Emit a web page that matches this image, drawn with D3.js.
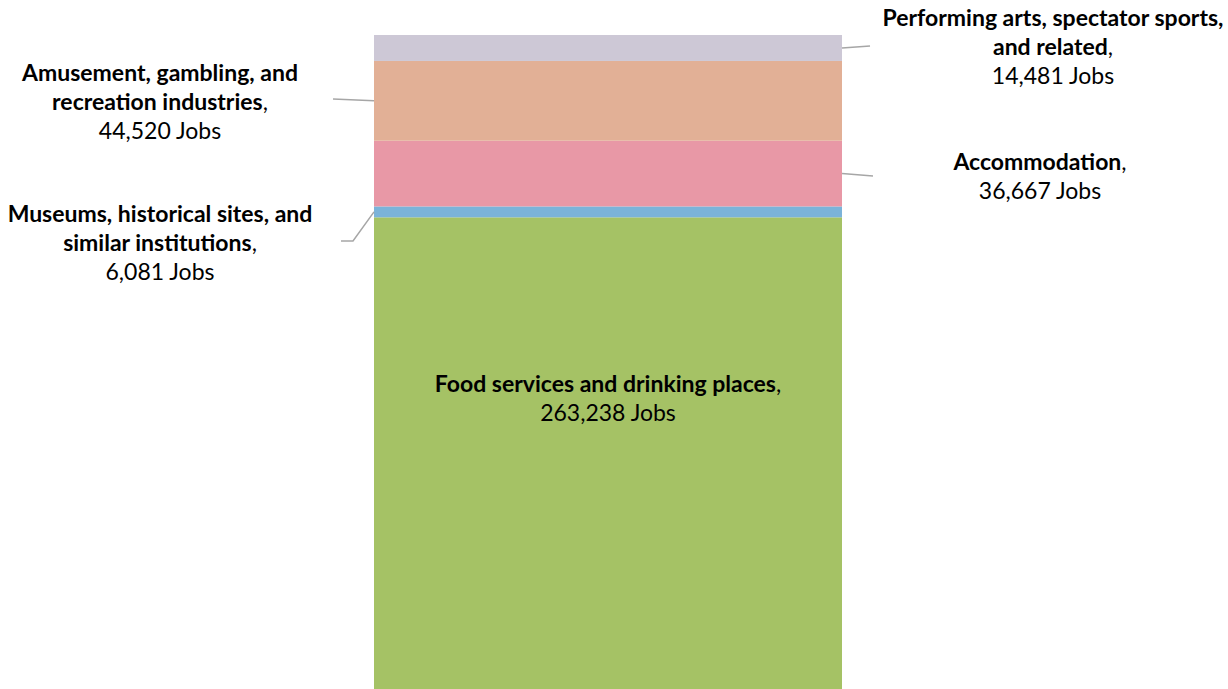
<!DOCTYPE html>
<html>
<head>
<meta charset="utf-8">
<script src="https://cdn.jsdelivr.net/npm/d3@7"></script>
<style>
  html, body { margin: 0; padding: 0; background: #fff; }
  svg { display: block; }
  text { font-family: Lato, "Open Sans", sans-serif; fill: #000; }
</style>
</head>
<body>
<div class="container"></div>
<script>
// stacked from the bottom up
const categories = [
    'Food services and drinking places',
    'Museums, historical sites, and similar institutions',
    'Accommodation',
    'Amusement, gambling, and recreation industries',
    'Performing arts, spectator sports, and related'
];
const jobs = [263238, 6081, 36667, 44520, 14481];
const labelLines = [
    ['Food services and drinking places'],
    ['Museums, historical sites, and', 'similar institutions'],
    ['Accommodation'],
    ['Amusement, gambling, and', 'recreation industries'],
    ['Performing arts, spectator sports,', 'and related']
];

const colors = ['#a5c265', '#7bb3d9', '#e898a6', '#e2b096', '#cdc8d6'];

const width = 1228;
const height = 689;

// label placement: centre x, first baseline, and leader line end points
const labelLayout = [
    { x: 608, y: 392, leader: null },
    { x: 160, y: 222, side: 'left', leader: [[353, 241], [341, 241]] },
    { x: 1040, y: 170, side: 'right', leader: [[873, 176]] },
    { x: 160, y: 81, side: 'left', leader: [[333, 99]] },
    { x: 1053, y: 26, side: 'right', leader: [[870, 46]] }
];

const svg = d3.select('.container')
    .append('svg')
    .attr('width', width)
    .attr('height', height);

const total = d3.sum(jobs);
const tops = Array.from(d3.cumsum(jobs));

const xScale = d3.scaleBand()
    .domain(['Jobs'])
    .range([374, 842]);

const yScale = d3.scaleLinear()
    .domain([0, total])
    .range([689, 35]);

const segments = jobs.map((v, i) => ({
    name: categories[i],
    value: v,
    y0: tops[i] - v,
    y1: tops[i],
    color: colors[i],
    lines: labelLines[i],
    layout: labelLayout[i]
}));

svg.append('g')
    .selectAll('rect')
    .data(segments)
    .join('rect')
    .attr('x', xScale('Jobs'))
    .attr('width', xScale.bandwidth())
    .attr('y', d => yScale(d.y1))
    .attr('height', d => yScale(d.y0) - yScale(d.y1))
    .attr('fill', d => d.color);

// leader lines
const line = d3.line().curve(d3.curveLinear);
svg.append('g')
    .selectAll('path')
    .data(segments.filter(d => d.layout.leader))
    .join('path')
    .attr('d', d => {
        const xEdge = d.layout.side === 'left' ? xScale('Jobs') : xScale('Jobs') + xScale.bandwidth();
        const yMid = yScale((d.y0 + d.y1) / 2);
        return line([[xEdge, yMid], ...d.layout.leader]);
    })
    .attr('fill', 'none')
    .attr('stroke', '#a6a6a6')
    .attr('stroke-width', 1.5);

// labels
const fmt = d3.format(',');
const lineGap = 29;
const labels = svg.append('g')
    .selectAll('text')
    .data(segments)
    .join('text')
    .attr('text-anchor', 'middle')
    .attr('font-size', 23);

labels.each(function(d) {
    const t = d3.select(this);
    d.lines.forEach((s, k) => {
        t.append('tspan')
            .attr('x', d.layout.x)
            .attr('y', d.layout.y + k * lineGap)
            .attr('font-weight', 'bold')
            .text(s);
        if (k === d.lines.length - 1) {
            t.append('tspan').attr('font-weight', 'normal').text(',');
        }
    });
    t.append('tspan')
        .attr('x', d.layout.x)
        .attr('y', d.layout.y + d.lines.length * lineGap)
        .attr('font-weight', 'normal')
        .text(fmt(d.value) + ' Jobs');
});
</script>
</body>
</html>
